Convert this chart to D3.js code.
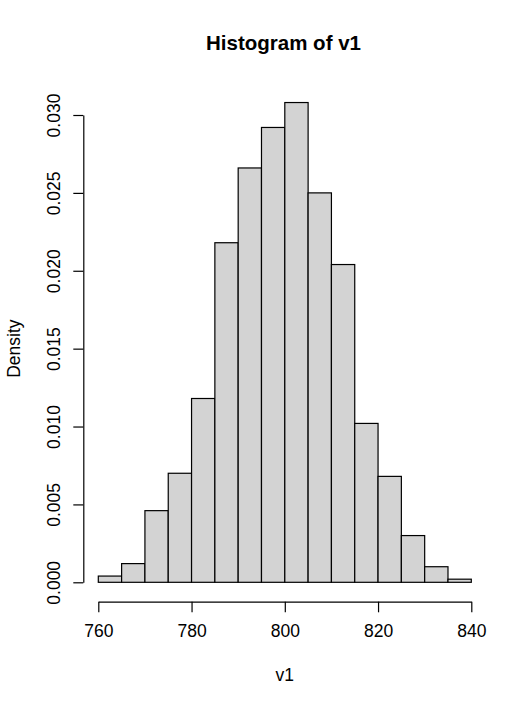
<!DOCTYPE html>
<html>
<head>
<meta charset="utf-8">
<script src="https://cdn.jsdelivr.net/npm/d3@7"></script>
<style>
  body { margin: 0; background: #fff; }
  text { font-family: "Liberation Sans", Arial, sans-serif; fill: #000; }
</style>
</head>
<body>
<div id="chart"></div>
<script>
// bin edges (width 5) and densities
const binStarts = [760, 765, 770, 775, 780, 785, 790, 795, 800, 805, 810, 815, 820, 825, 830, 835];
const densities = [0.0004, 0.0012, 0.0046, 0.0070, 0.0118, 0.0218, 0.0266, 0.0292, 0.0308, 0.0250, 0.0204, 0.0102, 0.0068, 0.0030, 0.0010, 0.0002];
const binWidth = 5;
const xTicks = [760, 780, 800, 820, 840];
const yTicks = [0, 0.005, 0.010, 0.015, 0.020, 0.025, 0.030];

const width = 529, height = 706;

let x = d3.scaleLinear()
  .domain([760, 840])
  .range([98.3, 471.3])

let y = d3.scaleLinear()
  .domain([0, 0.030])
  .range([582.3, 115])

let svg = d3.select('#chart').append('svg')
  .attr('width', width).attr('height', height)

let bins = binStarts.map((b, i) => ({x0: b, x1: b + binWidth, d: densities[i]}))

svg.append('g').selectAll('rect').data(bins).join('rect')
  .attr('x', d => x(d.x0))
  .attr('y', d => y(d.d))
  .attr('width', d => x(d.x1) - x(d.x0))
  .attr('height', d => y(0) - y(d.d))
  .attr('fill', '#d3d3d3')
  .attr('stroke', '#000')
  .attr('stroke-width', 1.2)

// x axis, R style (detached from plot)
let xAxis = svg.append('g').attr('transform', 'translate(0,601.7)')
  .call(d3.axisBottom(x).tickValues(xTicks).tickSize(10.6).tickSizeOuter(0).tickPadding(8))
xAxis.select('.domain').attr('stroke-width', 1.2)
xAxis.selectAll('.tick line').attr('stroke-width', 1.2)
xAxis.selectAll('text').attr('font-size', '17.5px').attr('dy', '0.95em')

// y axis with rotated labels
let yAxis = svg.append('g').attr('transform', 'translate(83.3,0)')
  .call(d3.axisLeft(y).tickValues(yTicks).tickSize(10).tickSizeOuter(0).tickFormat(d3.format('.3f')))
yAxis.select('.domain').attr('stroke-width', 1.2)
yAxis.selectAll('.tick line').attr('stroke-width', 1.2)
yAxis.selectAll('text')
  .attr('font-size', '17.5px')
  .attr('text-anchor', 'middle')
  .attr('x', null).attr('dy', null)
  .attr('transform', 'translate(-23.5,0) rotate(-90)')

svg.append('text')
  .attr('x', 283.5).attr('y', 50)
  .attr('text-anchor', 'middle')
  .attr('font-size', '20.5px')
  .attr('font-weight', 'bold')
  .text('Histogram of v1')

svg.append('text')
  .attr('x', x(800)).attr('y', 681)
  .attr('text-anchor', 'middle')
  .attr('font-size', '17.5px')
  .text('v1')

svg.append('text')
  .attr('transform', 'translate(20,' + y(0.015) + ') rotate(-90)')
  .attr('text-anchor', 'middle')
  .attr('font-size', '17.5px')
  .text('Density')
</script>
</body>
</html>
